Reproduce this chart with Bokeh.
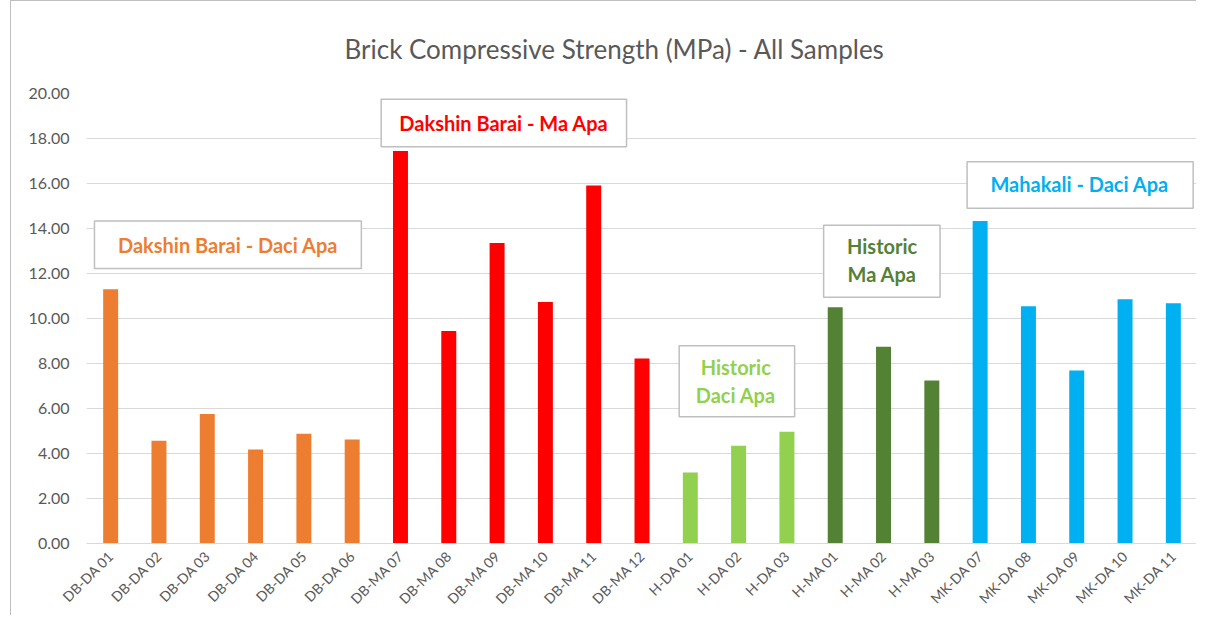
from bokeh.plotting import figure
from bokeh.models import FactorRange, Range1d, NumeralTickFormatter, ColumnDataSource, FixedTicker
from bokeh.core.properties import value
from bokeh.embed import file_html
from bokeh.resources import INLINE
import math

samples = ["DB-DA 01", "DB-DA 02", "DB-DA 03", "DB-DA 04", "DB-DA 05", "DB-DA 06",
           "DB-MA 07", "DB-MA 08", "DB-MA 09", "DB-MA 10", "DB-MA 11", "DB-MA 12",
           "H-DA 01", "H-DA 02", "H-DA 03",
           "H-MA 01", "H-MA 02", "H-MA 03",
           "MK-DA 07", "MK-DA 08", "MK-DA 09", "MK-DA 10", "MK-DA 11"]
strength = [11.30, 4.57, 5.76, 4.18, 4.88, 4.62,
            17.45, 9.45, 13.36, 10.73, 15.91, 8.22,
            3.16, 4.35, 4.97,
            10.50, 8.75, 7.25,
            14.33, 10.55, 7.69, 10.86, 10.68]
groups = ["DB-DA"] * 6 + ["DB-MA"] * 6 + ["H-DA"] * 3 + ["H-MA"] * 3 + ["MK-DA"] * 5
group_colors = {"DB-DA": "#ED7D31", "DB-MA": "#FF0000", "H-DA": "#92D050",
                "H-MA": "#548235", "MK-DA": "#00B0F0"}
y_ticks = [0, 2, 4, 6, 8, 10, 12, 14, 16, 18, 20]
title_text = "Brick Compressive Strength (MPa) - All Samples"

FONT = "Lato"
GRAY = "#595959"

src = ColumnDataSource(dict(x=samples, top=strength,
                            color=[group_colors[g] for g in groups]))

p = figure(width=1186, height=615, x_range=FactorRange(factors=samples, range_padding=0),
           y_range=Range1d(0, 20), output_backend="svg", toolbar_location=None,
           min_border_left=75, min_border_right=0, min_border_top=80, min_border_bottom=70,
           title=title_text)
p.styles = {"margin-left": "10px",
            "border-left": "1px solid #BFBFBF", "border-top": "1px solid #BFBFBF"}
p.outline_line_color = None
p.background_fill_color = "white"
p.border_fill_color = "white"

p.title.text_font = FONT
p.title.text_font_size = "26px"
p.title.text_font_style = "normal"
p.title.text_color = GRAY
p.title.align = "left"
p.title.offset = 258
p.title.standoff = 58

p.vbar(x="x", top="top", width=0.31, color="color", source=src, line_color=None)

p.xgrid.grid_line_color = None
p.ygrid.grid_line_color = "#D9D9D9"
p.ygrid.grid_line_width = 1

p.yaxis.ticker = FixedTicker(ticks=y_ticks)
p.yaxis.formatter = NumeralTickFormatter(format="0.00")
p.yaxis.axis_line_color = None
p.yaxis.major_tick_line_color = None
p.yaxis.minor_tick_line_color = None
p.yaxis.major_tick_out = 0
p.yaxis.major_label_text_font = FONT
p.yaxis.major_label_text_font_size = "16px"
p.yaxis.major_label_text_color = GRAY
p.yaxis.major_label_standoff = 17

p.xaxis.axis_line_color = "#D9D9D9"
p.xaxis.major_tick_line_color = None
p.xaxis.minor_tick_line_color = None
p.xaxis.major_tick_out = 0
p.xaxis.major_tick_in = 0
p.xaxis.major_label_orientation = math.pi / 4
p.xaxis.major_label_text_font = FONT
p.xaxis.major_label_text_font_size = "14px"
p.xaxis.major_label_text_color = GRAY
p.xaxis.major_label_standoff = 10

# annotation boxes (left, right, top, bottom in data units), text lines, colour
boxes = [
    (0.165, 5.69, 14.33, 12.22, ["Dakshin Barai - Daci Apa"], 2.93, [13.27], "#ED7D31"),
    (6.10, 11.18, 19.74, 17.63, ["Dakshin Barai - Ma Apa"], 8.64, [18.70], "#FF0000"),
    (12.27, 14.66, 8.79, 5.63, ["Historic", "Daci Apa"], 13.44, [7.83, 6.62], "#92D050"),
    (15.26, 17.67, 14.15, 10.95, ["Historic", "Ma Apa"], 16.47, [13.21, 11.98], "#548235"),
    (18.23, 22.91, 16.97, 14.90, ["Mahakali - Daci Apa"], 20.56, [15.96], "#00B0F0"),
]
for l, r, t, b, lines, tx, tys, col in boxes:
    p.quad(left=[l], right=[r], top=[t], bottom=[b], fill_color="white",
           line_color="#BFBFBF", line_width=1.5)
    for line, ty in zip(lines, tys):
        p.text(x=[tx], y=[ty], text=[line], text_font=value(FONT), text_font_size="20px",
               text_font_style="bold", text_color=col, text_align="center",
               text_baseline="middle")

open("out.html", "w").write(file_html(p, INLINE))
